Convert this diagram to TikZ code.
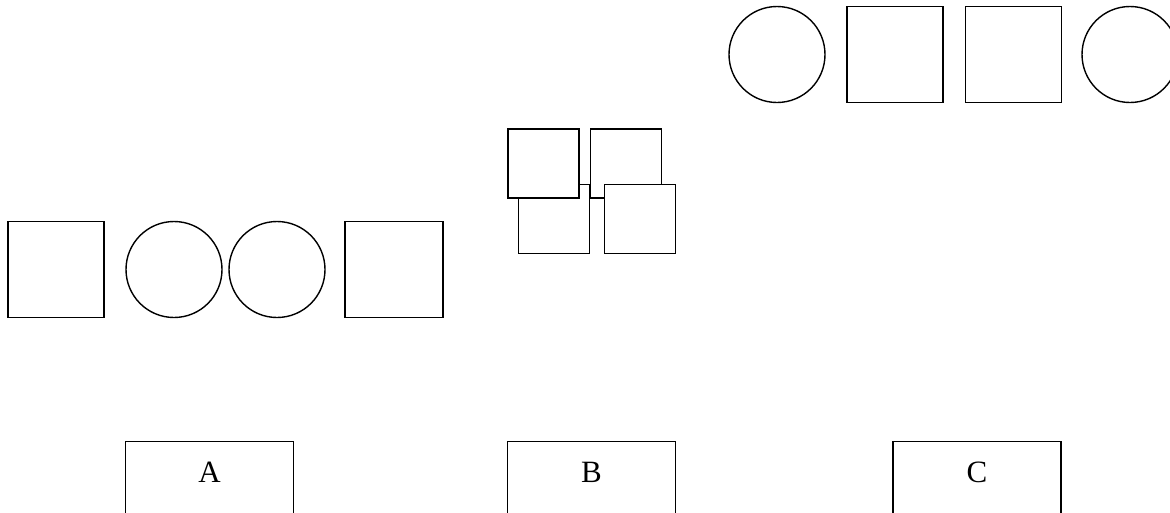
\documentclass[tikz,border=0pt]{standalone}
\usepackage{fontspec}
\setmainfont{Liberation Serif}
\usepackage{tikz}
\usetikzlibrary{positioning}

\begin{document}
\begin{tikzpicture}[
    x=1pt,
    y=-1pt,
    shape square/.style={rectangle, draw=black, fill=white, line width=1.4pt, inner sep=0pt, minimum width=96pt, minimum height=96pt},
    shape round/.style={circle, draw=black, fill=white, line width=1.4pt, inner sep=0pt, minimum size=96pt},
    small square/.style={rectangle, draw=black, fill=white, line width=1.4pt, inner sep=0pt, minimum width=71pt, minimum height=69pt},
    labelbox/.style={rectangle, draw=black, line width=1.4pt, minimum width=168pt, text height=23pt, text depth=45pt, inner ysep=18pt, font=\fontsize{31}{36}\selectfont}
]
\useasboundingbox (0,0) rectangle (1170,512);

% Top row
\node [shape round] (topC1) at (777, 54.5) {};
\node [shape square] (topS1) at (895, 54.5) {};
\node [shape square] (topS2) at (1013.5, 54.5) {};
\node [shape round] (topC2) at (1130, 54.5) {};

% Overlapping squares
\node [small square] (midBL) at (554, 219) {};
\node [small square] (midTL) at (543.5, 163.5) {};
\node [small square] (midTR) at (626, 163.5) {};
\node [small square] (midBR) at (640, 219) {};

% Left row
\node [shape square] (leftS1) at (56, 269.5) {};
\node [shape round] (leftC1) at (174, 269.5) {};
\node [shape round] (leftC2) at (277, 269.5) {};
\node [shape square, minimum width=98pt] (leftS2) at (394, 269.5) {};

% Bottom boxes
\foreach \lbl/\xpos in {A/209.5, B/591.5, C/977} {
    \node [labelbox, anchor=north] (box\lbl) at (\xpos, 441) {\lbl};
}

\end{tikzpicture}
\end{document}
